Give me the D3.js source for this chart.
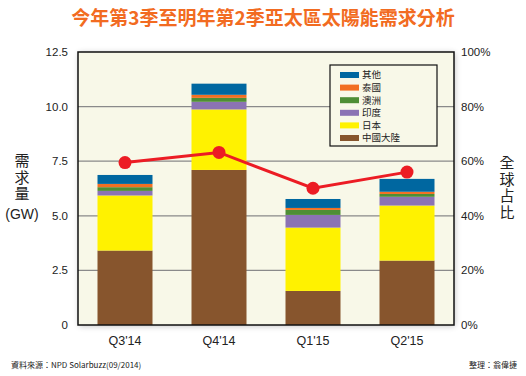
<!DOCTYPE html>
<html><head><meta charset="utf-8">
<script src="https://cdn.jsdelivr.net/npm/d3@7"></script>
<style>body{margin:0;background:#fff;}svg{display:block;font-family:"Liberation Sans",Arial,sans-serif;}</style>
</head><body><svg id="c" width="526" height="376"></svg>
<script>
const categories = ["Q3'14","Q4'14","Q1'15","Q2'15"];
const seriesNames = ["中國大陸","日本","印度","澳洲","泰國","其他"];
const seriesColors = ["#87552D","#FFF200","#8B73B4","#4E8E35","#F26F22","#0067A0"];
const china = [3.41, 7.10, 1.56, 2.95];
const japan = [2.52, 2.77, 2.90, 2.52];
const india = [0.21, 0.35, 0.58, 0.40];
const australia = [0.17, 0.18, 0.23, 0.13];
const thailand = [0.15, 0.14, 0.09, 0.10];
const other = [0.41, 0.51, 0.41, 0.59];
const share = [59.5, 63.2, 50.1, 56.0];
const leftTicks = [0, 2.5, 5.0, 7.5, 10.0, 12.5];
const rightTicks = [0, 20, 40, 60, 80, 100];

const svg = d3.select("#c");
const L = 78, R = 454, T = 52, B = 325;
const x = d3.scaleBand().domain(categories).range([L, R]).paddingInner(0.415).paddingOuter(0.2075);
const y = d3.scaleLinear().domain([0, 12.5]).range([B, T]);
const y2 = d3.scaleLinear().domain([0, 100]).range([B, T]);

// shadow
const defs = svg.append("defs");
const f = defs.append("filter").attr("id","sh").attr("x","-10%").attr("y","-10%").attr("width","120%").attr("height","120%");
f.append("feGaussianBlur").attr("in","SourceAlpha").attr("stdDeviation",3);
f.append("feOffset").attr("dx",1).attr("dy",1).attr("result","b");
f.append("feComponentTransfer").append("feFuncA").attr("type","linear").attr("slope",0.25);
const m = f.append("feMerge"); m.append("feMergeNode"); m.append("feMergeNode").attr("in","SourceGraphic");

svg.append("rect").attr("x",L).attr("y",T).attr("width",R-L).attr("height",B-T).attr("fill","#F8F8E8").attr("filter","url(#sh)");

// grid
svg.append("g").selectAll("line").data(leftTicks.slice(1,5)).join("line")
  .attr("x1",L).attr("x2",R).attr("y1",d=>y(d)).attr("y2",d=>y(d)).attr("stroke","#8a8a8a").attr("stroke-width",1.2);

// stacked bars
const table = categories.map((c,i)=>({cat:c,"中國大陸":china[i],"日本":japan[i],"印度":india[i],"澳洲":australia[i],"泰國":thailand[i],"其他":other[i]}));
const stack = d3.stack().keys(seriesNames)(table);
svg.append("g").selectAll("g").data(stack).join("g").attr("fill",(d,i)=>seriesColors[i])
  .selectAll("rect").data(d=>d).join("rect")
  .attr("x",d=>x(d.data.cat)).attr("width",x.bandwidth())
  .attr("y",d=>y(d[1])).attr("height",d=>y(d[0])-y(d[1]));

// frame
svg.append("rect").attr("x",L).attr("y",T).attr("width",R-L).attr("height",B-T).attr("fill","none").attr("stroke","#111").attr("stroke-width",1.5);

// line
const line = d3.line().x((d,i)=>x(categories[i])+x.bandwidth()/2).y(d=>y2(d));
svg.append("path").datum(share).attr("d",line).attr("fill","none").attr("stroke","#EC1C24").attr("stroke-width",3);
svg.append("g").selectAll("circle").data(share).join("circle")
  .attr("cx",(d,i)=>x(categories[i])+x.bandwidth()/2).attr("cy",d=>y2(d)).attr("r",6.5).attr("fill","#EC1C24");

// axes labels
const fmt = d=> d===0 ? "0" : d3.format(".1f")(d);
svg.append("g").selectAll("text").data(leftTicks).join("text")
  .attr("x",68).attr("y",d=>y(d)).attr("dy","0.35em").attr("text-anchor","end")
  .attr("font-size",11.5).attr("fill","#222").text(fmt);
svg.append("g").selectAll("text").data(rightTicks).join("text")
  .attr("x",461).attr("y",d=>y2(d)).attr("dy","0.35em").attr("text-anchor","start")
  .attr("font-size",11.5).attr("fill","#222").text(d=>d+"%");
svg.append("g").selectAll("text").data(categories).join("text")
  .attr("x",d=>x(d)+x.bandwidth()/2).attr("y",341).attr("dy","0.35em").attr("text-anchor","middle")
  .attr("font-size",12.5).attr("fill","#222").text(d=>d);

// axis titles
const cjk = '"Noto Sans CJK TC","Noto Sans CJK SC",sans-serif';
svg.append("text").attr("x",22).attr("y",153).attr("writing-mode","vertical-rl").attr("font-family",cjk)
  .attr("font-size",15).attr("letter-spacing",1.5).attr("fill","#222").text("需求量");
svg.append("text").attr("x",22).attr("y",219).attr("text-anchor","middle").attr("font-size",14).attr("fill","#222").text("(GW)");
svg.append("text").attr("x",507).attr("y",155).attr("writing-mode","vertical-rl").attr("font-family",cjk)
  .attr("font-size",15).attr("letter-spacing",1.5).attr("fill","#222").text("全球占比");

// title
svg.append("text").attr("x",263).attr("y",25).attr("text-anchor","middle").attr("font-family",cjk)
  .attr("font-weight","bold").attr("font-size",19).attr("fill","#F26B21").text("今年第3季至明年第2季亞太區太陽能需求分析");

// legend
const lg = svg.append("g");
lg.append("rect").attr("x",330).attr("y",65).attr("width",107).attr("height",81).attr("fill","#F8F8E8").attr("stroke","#111").attr("stroke-width",1.2);
const legendOrder = [5,4,3,2,1,0];
legendOrder.forEach((si,j)=>{
  const yy = 75 + j*12.6;
  lg.append("rect").attr("x",340).attr("y",yy-3).attr("width",19).attr("height",6).attr("fill",seriesColors[si]);
  lg.append("text").attr("x",362).attr("y",yy).attr("dy","0.35em").attr("font-family",cjk).attr("font-size",9.5).attr("fill","#222").text(seriesNames[si]);
});

// footer
svg.append("text").attr("x",11).attr("y",368).attr("font-family",cjk).attr("font-size",8).attr("fill","#222").text("資料來源：NPD Solarbuzz(09/2014)");
svg.append("text").attr("x",517).attr("y",368).attr("text-anchor","end").attr("font-family",cjk).attr("font-size",8).attr("fill","#222").text("整理：翁偉捷");
</script></body></html>
